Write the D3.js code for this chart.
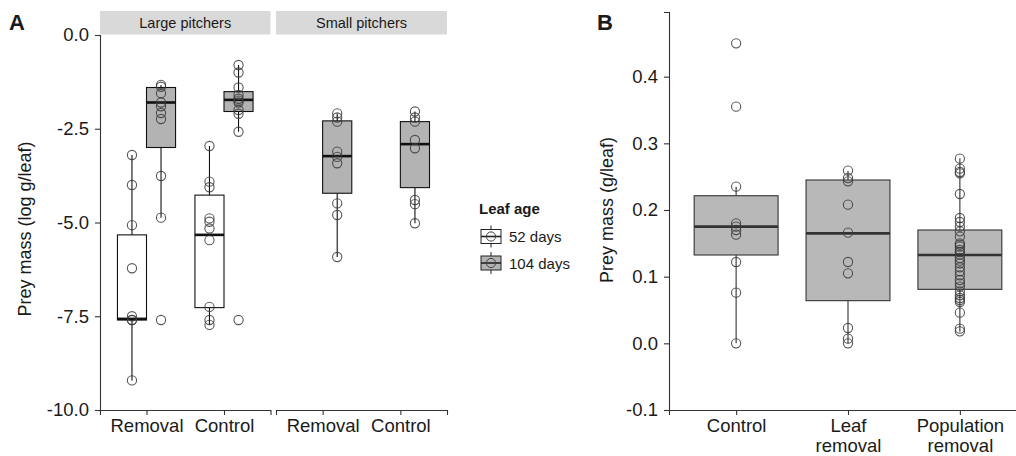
<!DOCTYPE html>
<html>
<head>
<meta charset="utf-8">
<script src="https://cdn.jsdelivr.net/npm/d3@7"></script>
<style>
  body { margin: 0; background: #fff; }
  text { font-family: "Liberation Sans", Arial, Helvetica, sans-serif; fill: #1a1a1a; }
  .tick text { font-size: 18.5px; }
  .axis path, .axis line { stroke: #333; stroke-width: 1.1; }
</style>
</head>
<body>
<svg id="chart" width="1016" height="456"></svg>
<script>
// ---- panel A data ----
var facetsA = ["Large pitchers", "Small pitchers"];
var treatmentsA = ["Removal", "Control"];
var ageLevels = ["52 days", "104 days"];
var ageFill = ["#ffffff", "#b3b3b3"];
var tickValuesA = [0, -2.5, -5, -7.5, -10];

var groupFacetA = ["Large pitchers", "Large pitchers", "Large pitchers", "Large pitchers", "Small pitchers", "Small pitchers"];
var groupTreatA = ["Removal", "Removal", "Control", "Control", "Removal", "Control"];
var groupAgeA   = ["52 days", "104 days", "52 days", "104 days", "104 days", "104 days"];
var whiskLoA = [-9.21, -4.87, -7.73, -2.58, -5.92, -5.02];
var q1A      = [-7.60, -3.00, -7.27, -2.04, -4.22, -4.07];
var medA     = [-7.57, -1.80, -5.33, -1.73, -3.23, -2.91];
var q3A      = [-5.33, -1.40, -4.27, -1.51, -2.29, -2.31];
var whiskHiA = [-3.20, -1.33, -2.96, -0.80, -2.09, -2.04];
var pointsA = [
    [-3.2, -4.0, -5.07, -6.22, -7.5, -7.6, -7.6, -9.21],
    [-1.33, -1.38, -1.55, -1.8, -1.9, -2.08, -2.24, -3.76, -4.87, -7.6],
    [-2.96, -3.91, -4.06, -4.89, -4.98, -5.16, -5.47, -7.25, -7.6, -7.73],
    [-0.8, -1.0, -1.4, -1.6, -1.7, -1.75, -1.8, -2.0, -2.1, -2.58, -7.6],
    [-2.09, -2.2, -2.31, -3.11, -3.25, -3.42, -4.49, -4.8, -5.92],
    [-2.04, -2.2, -2.31, -2.8, -3.02, -4.4, -4.51, -5.02]
];

// ---- panel B data ----
var treatmentsB = ["Control", "Leaf\nremoval", "Population\nremoval"];
var tickValuesB = [-0.1, 0, 0.1, 0.2, 0.3, 0.4];
var whiskLoB = [0.0, 0.0, 0.0175];
var q1B      = [0.1325, 0.064, 0.081];
var medB     = [0.175, 0.165, 0.1325];
var q3B      = [0.2214, 0.245, 0.170];
var whiskHiB = [0.235, 0.259, 0.2775];
var pointsB = [
    [0.45, 0.355, 0.235, 0.18, 0.175, 0.17, 0.163, 0.122, 0.076, 0.0],
    [0.259, 0.248, 0.243, 0.208, 0.166, 0.122, 0.105, 0.023, 0.007, 0.0],
    [0.277, 0.262, 0.257, 0.255, 0.224, 0.188, 0.182, 0.175, 0.168, 0.16, 0.15, 0.148,
     0.145, 0.14, 0.137, 0.133, 0.128, 0.124, 0.12, 0.114, 0.108, 0.102, 0.095, 0.09,
     0.085, 0.078, 0.072, 0.068, 0.065, 0.062, 0.046, 0.022, 0.018]
];

var svg = d3.select("#chart");
var fmt = function(d) { return d.toFixed(1); };

function drawBox(g, cx, w, y, lo, q1, med, q3, hi, fill, stroke) {
    g.append("line").attr("x1", cx).attr("x2", cx).attr("y1", y(hi)).attr("y2", y(q3))
        .attr("stroke", stroke).attr("stroke-width", 1.1);
    g.append("line").attr("x1", cx).attr("x2", cx).attr("y1", y(q1)).attr("y2", y(lo))
        .attr("stroke", stroke).attr("stroke-width", 1.1);
    g.append("rect").attr("x", cx - w / 2).attr("y", y(q3))
        .attr("width", w).attr("height", y(q1) - y(q3))
        .attr("fill", fill).attr("stroke", stroke).attr("stroke-width", 1.1);
    g.append("line").attr("x1", cx - w / 2).attr("x2", cx + w / 2)
        .attr("y1", y(med)).attr("y2", y(med))
        .attr("stroke", stroke).attr("stroke-width", 2.6);
}

function drawPoints(g, cx, y, vals) {
    g.selectAll(null)
        .data(vals)
        .enter().append("circle")
        .attr("cx", cx)
        .attr("cy", function(d) { return y(d); })
        .attr("r", 4.6)
        .attr("fill", "none")
        .attr("stroke", "#3a3a3a")
        .attr("stroke-opacity", 0.85)
        .attr("stroke-width", 1.1);
}

// ================= panel A =================
var yA = d3.scaleLinear().domain([-10, 0]).range([410, 35]);
var facetRange = { "Large pitchers": [100, 270.5], "Small pitchers": [276, 447] };

svg.append("text").attr("x", 9).attr("y", 30)
    .style("font-size", "22px").style("font-weight", "bold").text("A");

svg.append("g").attr("class", "axis")
    .attr("transform", "translate(100,0)")
    .call(d3.axisLeft(yA).tickValues(tickValuesA).tickFormat(fmt)
        .tickSizeOuter(0).tickSize(5).tickPadding(6));

svg.append("text")
    .attr("transform", "translate(31,229) rotate(-90)")
    .attr("text-anchor", "middle")
    .style("font-size", "18px")
    .text("Prey mass (log g/leaf)");

var xA = {};
facetsA.forEach(function(f) {
    var r = facetRange[f];
    xA[f] = d3.scalePoint().domain(treatmentsA).range(r).padding(0.6);

    // strip
    svg.append("rect").attr("x", r[0]).attr("y", 11)
        .attr("width", r[1] - r[0]).attr("height", 23.5)
        .attr("fill", "#d9d9d9");
    svg.append("text").attr("x", (r[0] + r[1]) / 2).attr("y", 28)
        .attr("text-anchor", "middle").style("font-size", "14.5px")
        .text(f);

    svg.append("g").attr("class", "axis")
        .attr("transform", "translate(0,410)")
        .call(d3.axisBottom(xA[f]).tickSizeOuter(0).tickSize(5).tickPadding(4));
});

var gA = svg.append("g");
groupFacetA.forEach(function(f, i) {
    var x = xA[f];
    var step = x.step();
    var off = (ageLevels.indexOf(groupAgeA[i]) === 0 ? -1 : 1) * 0.1875 * step;
    var cx = x(groupTreatA[i]) + off;
    var fill = ageFill[ageLevels.indexOf(groupAgeA[i])];
    drawBox(gA, cx, 0.375 * step, yA, whiskLoA[i], q1A[i], medA[i], q3A[i], whiskHiA[i], fill, "#111");
    drawPoints(gA, cx, yA, pointsA[i]);
});

// legend
var leg = svg.append("g").attr("transform", "translate(479,0)");
leg.append("text").attr("x", 0).attr("y", 214)
    .style("font-size", "15px").style("font-weight", "bold").text("Leaf age");
ageLevels.forEach(function(a, i) {
    var cy = 236.5 + i * 26.5;
    var k = leg.append("g");
    k.append("line").attr("x1", 12).attr("x2", 12).attr("y1", cy - 11).attr("y2", cy + 11)
        .attr("stroke", "#222").attr("stroke-width", 1);
    k.append("rect").attr("x", 2).attr("y", cy - 7).attr("width", 20).attr("height", 14)
        .attr("fill", ageFill[i]).attr("stroke", "#222").attr("stroke-width", 1);
    k.append("line").attr("x1", 2).attr("x2", 22).attr("y1", cy).attr("y2", cy)
        .attr("stroke", "#222").attr("stroke-width", 1.6);
    k.append("circle").attr("cx", 12).attr("cy", cy).attr("r", 4.6)
        .attr("fill", "none").attr("stroke", "#444").attr("stroke-width", 1);
    leg.append("text").attr("x", 30).attr("y", cy + 5.5)
        .style("font-size", "15px").text(a);
});

// ================= panel B =================
var yB = d3.scaleLinear().domain([-0.1, 0.497]).range([410, 12]);
var xB = d3.scalePoint().domain(treatmentsB).range([669, 1027]).padding(0.6);

svg.append("text").attr("x", 597).attr("y", 30)
    .style("font-size", "22px").style("font-weight", "bold").text("B");

svg.append("g").attr("class", "axis")
    .attr("transform", "translate(669,0)")
    .call(d3.axisLeft(yB).tickValues(tickValuesB).tickFormat(fmt)
        .tickSizeOuter(0).tickSize(5).tickPadding(6));

svg.append("text")
    .attr("transform", "translate(613,210) rotate(-90)")
    .attr("text-anchor", "middle")
    .style("font-size", "18px")
    .text("Prey mass (g/leaf)");

var axB = svg.append("g").attr("class", "axis")
    .attr("transform", "translate(0,410)")
    .call(d3.axisBottom(xB).tickSizeOuter(0).tickSize(5).tickPadding(4));

// split two-line category labels into tspans
axB.selectAll(".tick text").each(function(d) {
    var t = d3.select(this).text("");
    d.split("\n").forEach(function(line, j) {
        t.append("tspan").attr("x", 0).attr("dy", j === 0 ? "0.71em" : "1.07em").text(line);
    });
});

var gB = svg.append("g");
treatmentsB.forEach(function(c, i) {
    var cx = xB(c);
    drawBox(gB, cx, 0.75 * xB.step(), yB, whiskLoB[i], q1B[i], medB[i], q3B[i], whiskHiB[i], "#b8b8b8", "#333");
    drawPoints(gB, cx, yB, pointsB[i]);
});
</script>
</body>
</html>
